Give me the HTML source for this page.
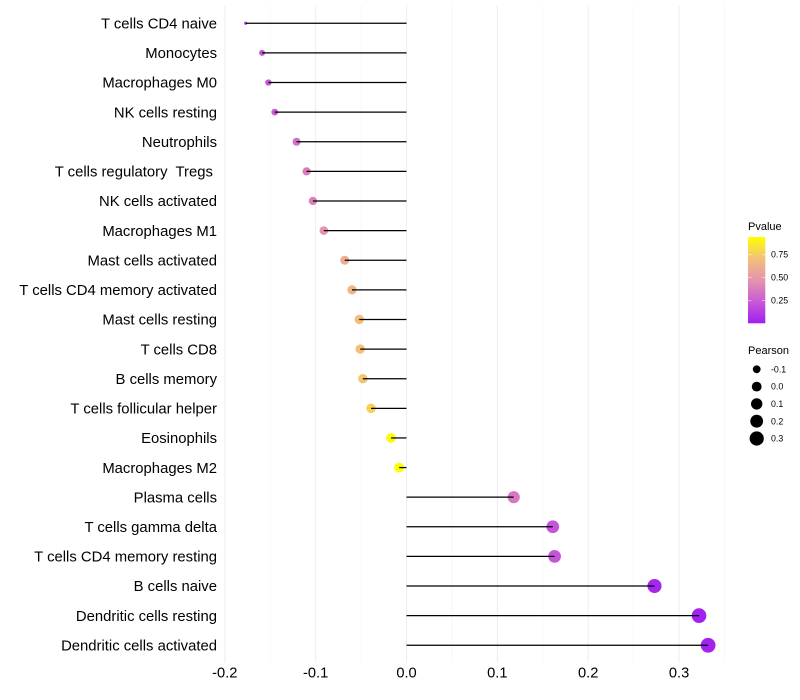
<!DOCTYPE html>
<html lang="en">
<head>
<meta charset="utf-8">
<title>Immune cell correlation lollipop chart</title>
<style>
html,body{margin:0;padding:0;background:#fff;width:800px;height:700px;overflow:hidden}
svg{display:block;font-family:"Liberation Sans",sans-serif}
</style>
</head>
<body>
<svg id="chart" width="800" height="700" viewBox="0 0 800 700" xmlns="http://www.w3.org/2000/svg">
  <defs>
    <linearGradient id="pvalue-gradient" x1="0" y1="1" x2="0" y2="0">
      <stop offset="0" stop-color="#a01ff0"/>
      <stop offset="0.25" stop-color="#c95ad6"/>
      <stop offset="0.5" stop-color="#e595ab"/>
      <stop offset="0.75" stop-color="#f2c07a"/>
      <stop offset="1" stop-color="#ffff00"/>
    </linearGradient>
  </defs>
  <rect x="0" y="0" width="800" height="700" fill="#ffffff"/>
  <g id="grid"></g>
  <g id="dots"></g>
  <g id="stems"></g>
  <g id="ylabels"></g>
  <g id="xlabels"></g>
  <g id="legend-p">
    <text x="748" y="230" font-size="11" fill="#000">Pvalue</text>
    <rect x="748" y="237" width="17.3" height="86.3" fill="url(#pvalue-gradient)"/>
  </g>
  <g id="legend-s">
    <text x="748" y="354" font-size="11" fill="#000">Pearson</text>
  </g>
</svg>
<script>
const categories = ["T cells CD4 naive","Monocytes","Macrophages M0","NK cells resting","Neutrophils","T cells regulatory  Tregs ","NK cells activated","Macrophages M1","Mast cells activated","T cells CD4 memory activated","Mast cells resting","T cells CD8","B cells memory","T cells follicular helper","Eosinophils","Macrophages M2","Plasma cells","T cells gamma delta","T cells CD4 memory resting","B cells naive","Dendritic cells resting","Dendritic cells activated"];
const pearson = [-0.177,-0.159,-0.152,-0.145,-0.121,-0.110,-0.103,-0.091,-0.068,-0.060,-0.052,-0.051,-0.048,-0.039,-0.017,-0.008,0.118,0.161,0.163,0.273,0.322,0.332];
const pvalue = [0.13,0.22,0.22,0.23,0.32,0.37,0.39,0.47,0.60,0.65,0.70,0.71,0.72,0.77,0.92,0.94,0.35,0.21,0.21,0.03,0.01,0.01];
const xMajorTicks = [-0.2,-0.1,0,0.1,0.2,0.3];
const xMinorTicks = [-0.15,-0.05,0.05,0.15,0.25,0.35];
const pvalueTicks = [0.25,0.5,0.75];
const pearsonLegend = [-0.1,0,0.1,0.2,0.3];

const NS = "http://www.w3.org/2000/svg";
function make(tag, attrs, parent, text){
  const el = document.createElementNS(NS, tag);
  for (const k in attrs) el.setAttribute(k, attrs[k]);
  if (text !== undefined) { el.textContent = text; el.setAttribute('xml:space','preserve'); el.style.whiteSpace = 'pre'; }
  parent.appendChild(el);
  return el;
}
function x(v){ return 406.5 + v * 908.5; }
function y(i){ return 23.26 + i * 29.62; }
function lerp(stops, v){
  if (v <= stops[0][0]) return stops[0].slice(1);
  for (let i = 1; i < stops.length; i++) {
    if (v <= stops[i][0]) {
      const t = (v - stops[i-1][0]) / (stops[i][0] - stops[i-1][0]);
      return stops[i].slice(1).map((c, j) => stops[i-1][j+1] + t * (c - stops[i-1][j+1]));
    }
  }
  return stops[stops.length-1].slice(1);
}
function radius(v){
  return lerp([[-0.177,1.6],[-0.159,3.0],[-0.121,4.0],[-0.05,4.7],[0,5],[0.1,6],[0.2,6.6],[0.33,7.4]], v)[0];
}
function legendRadius(v){
  return lerp([[-0.1,3.9],[0,4.9],[0.1,5.7],[0.2,6.4],[0.3,7.1]], v)[0];
}
function color(p){
  const c = lerp([[0,160,31,240],[0.235,201,90,214],[0.47,229,149,171],[0.705,242,192,122],[0.94,255,255,0]], p);
  return "rgb(" + c.map(Math.round).join(",") + ")";
}
function pY(p){ return 323.3 - p * 92; }

const grid = document.getElementById('grid');
xMinorTicks.forEach(t => {
  const l = make('line', {x1:x(t), x2:x(t), y1:5.3, y2:662.8, stroke:'#f3f3f3', 'stroke-width':0.6}, grid);
  
  
});
xMajorTicks.forEach(t => {
  const l = make('line', {x1:x(t), x2:x(t), y1:5.3, y2:662.8, stroke:'#efefef', 'stroke-width':1.07}, grid);
  
  
});

const dots = document.getElementById('dots');
const stems = document.getElementById('stems');
const ylabels = document.getElementById('ylabels');
categories.forEach((name, i) => {
  const d = make('circle', {cx:x(pearson[i]), cy:y(i), r:radius(pearson[i]), fill:color(pvalue[i])}, dots);
  
  
  const s = make('line', {x1:x(0), x2:x(pearson[i]), y1:y(i), y2:y(i), stroke:'#000', 'stroke-width':1.25}, stems);
  
  
  const t = make('text', {x:217, y:y(i)+5.2, 'text-anchor':'end', 'font-size':14.85, fill:'#000'}, ylabels, name);
  
  
});

const xlabels = document.getElementById('xlabels');
xMajorTicks.forEach(t => {
  const l = make('text', {x:x(t), y:677.5, 'text-anchor':'middle', 'font-size':14.67, fill:'#000'}, xlabels, t.toFixed(1));
  
  
});

const legendP = document.getElementById('legend-p');
pvalueTicks.forEach(p => {
  const a = make('line', {x1:748, x2:751.4, y1:pY(p), y2:pY(p), stroke:'#fff', 'stroke-width':0.6, 'stroke-opacity':0.8}, legendP);
  
  
  const b = make('line', {x1:761.9, x2:765.3, y1:pY(p), y2:pY(p), stroke:'#fff', 'stroke-width':0.6, 'stroke-opacity':0.8}, legendP);
  
  
  const l = make('text', {x:771, y:pY(p)+3.1, 'font-size':8.8, fill:'#000'}, legendP, p.toFixed(2));
  
  
});

const legendS = document.getElementById('legend-s');
pearsonLegend.forEach((v, i) => {
  const cy = 369.3 + i * 17.3;
  const c = make('circle', {cx:756.7, cy:cy, r:legendRadius(v), fill:'#000'}, legendS);
  
  
  const l = make('text', {x:771, y:cy+3.1, 'font-size':8.8, fill:'#000'}, legendS, v.toFixed(1));
  
  
});
</script>
</body>
</html>
